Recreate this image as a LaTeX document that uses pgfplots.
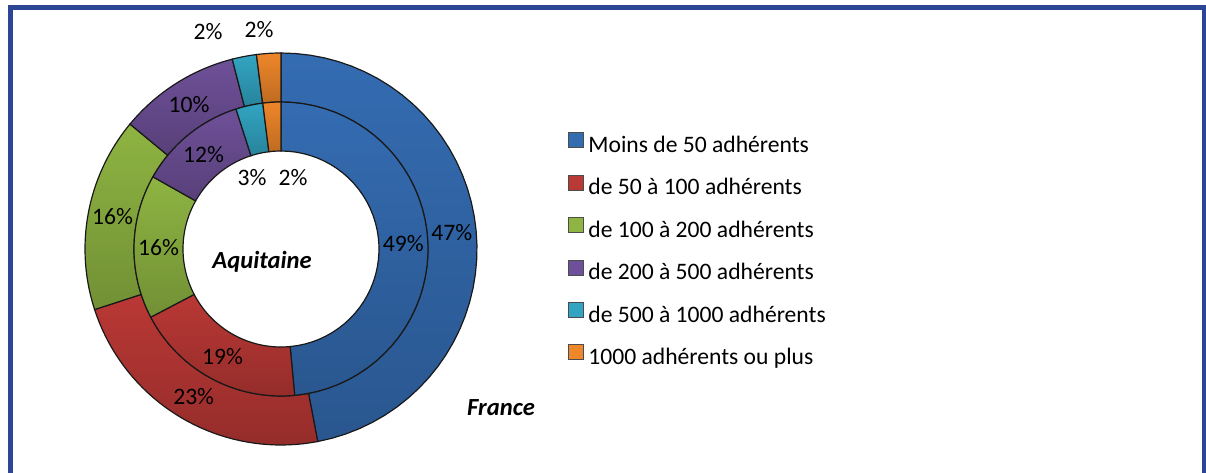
\documentclass[border=0pt]{standalone}
\usepackage{pgfplots}
\pgfplotsset{compat=1.18}
\usepackage{pgfplotstable}
\usepackage{fontspec}
\setmainfont{Carlito}

\definecolor{cBlue}{RGB}{52,108,178}
\definecolor{cRed}{RGB}{186,56,53}
\definecolor{cGreen}{RGB}{142,180,66}
\definecolor{cPurple}{RGB}{110,80,152}
\definecolor{cTeal}{RGB}{50,164,194}
\definecolor{cOrange}{RGB}{238,134,42}
\definecolor{frame}{RGB}{44,70,150}

\newcommand\pct{\fontsize{11.8}{13}\selectfont}
\newcommand\lgf{\fontsize{11.8}{13}\selectfont}

% val: share in %, col: colour, lr: label radius (px), ls: label angle shift (deg)
\pgfplotstableread{
val col     lr    ls
47  cBlue   171.5 0
23  cRed    171.5 0
16  cGreen  171.5 0
10  cPurple 171.5 0
2   cTeal   229   7.8
2   cOrange 221   2.1
}\france
\pgfplotstableread{
val col     lr    ls
49  cBlue   122.5 0
19  cRed    122.5 0
16  cGreen  122.5 0
12  cPurple 122.5 0
3   cTeal   76.7  9.7
2   cOrange 72    -13.2
}\aquitaine

\def\cx{281}\def\cy{223}

% #1 table, #2 inner radius, #3 outer radius (all in px)
\newcommand\ring[3]{%
  \def\tot{0}%
  \pgfplotsforeachungrouped \i in {0,...,5}{%
    \pgfplotstablegetelem{\i}{val}\of{#1}%
    \pgfmathsetmacro\tot{\tot+\pgfplotsretval}}%
  \def\cum{0}%
  \pgfplotsforeachungrouped \i in {0,...,5}{%
    \pgfplotstablegetelem{\i}{val}\of{#1}\let\sv\pgfplotsretval
    \pgfplotstablegetelem{\i}{col}\of{#1}\let\sc\pgfplotsretval
    \pgfplotstablegetelem{\i}{lr}\of{#1}\let\slr\pgfplotsretval
    \pgfplotstablegetelem{\i}{ls}\of{#1}\let\sls\pgfplotsretval
    \pgfmathsetmacro\sa{90-360/\tot*\cum}%
    \pgfmathsetmacro\cum{\cum+\sv}%
    \pgfmathsetmacro\sb{90-360/\tot*\cum}%
    \pgfmathsetmacro\lx{\cx+\slr*cos(((\sa)+(\sb))/2+(\sls))}%
    \pgfmathsetmacro\ly{\cy+\slr*sin(((\sa)+(\sb))/2+(\sls))}%
    \edef\cmd{%
      \noexpand\addplot[top color=\sc, bottom color=\sc!80!black,
        draw=black!90, line width=0.6pt, forget plot,
        samples at={0,...,81}, variable=\noexpand\t]
      ({\cx+ifthenelse(\noexpand\t<41, #3*cos((\sa)+((\sb)-(\sa))*\noexpand\t/40), #2*cos((\sb)+((\sa)-(\sb))*(\noexpand\t-41)/40))},
       {\cy+ifthenelse(\noexpand\t<41, #3*sin((\sa)+((\sb)-(\sa))*\noexpand\t/40), #2*sin((\sb)+((\sa)-(\sb))*(\noexpand\t-41)/40))})
      -- cycle;
      \noexpand\node[font=\noexpand\pct] at (axis cs:\lx,\ly) {\sv\noexpand\%};}%
    \cmd
  }%
}

\begin{document}
\begin{tikzpicture}
\begin{axis}[
  width=603pt, height=236pt, scale only axis,
  xmin=0, xmax=1206, ymin=0, ymax=472,
  hide axis, clip=false,
  legend cell align=left,
  legend image code/.code={\draw[#1, draw=black!70, line width=0.5pt] (0pt,-0.5pt) rectangle (7.5pt,7pt);},
  legend style={at={(axis cs:568,340)}, anchor=north west, draw=none, fill=none,
    inner sep=0pt, row sep=8.7pt, font=\lgf,
    nodes={inner sep=0pt, text height=8pt, text depth=2.5pt},
    /tikz/every odd column/.append style={column sep=2pt},
    /tikz/every even column/.append style={column sep=0pt}},
]
\draw[frame, line width=2.5pt] (axis cs:10.5,-20) -- (axis cs:10.5,464.5)
  -- (axis cs:1204.5,464.5) -- (axis cs:1204.5,-20);

\ring{\france}{147}{196}
\ring{\aquitaine}{98}{147}

\addlegendimage{fill=cBlue}\addlegendentry{Moins de 50 adhérents}
\addlegendimage{fill=cRed}\addlegendentry{de 50 à 100 adhérents}
\addlegendimage{fill=cGreen}\addlegendentry{de 100 à 200 adhérents}
\addlegendimage{fill=cPurple}\addlegendentry{de 200 à 500 adhérents}
\addlegendimage{fill=cTeal}\addlegendentry{de 500 à 1000 adhérents}
\addlegendimage{fill=cOrange}\addlegendentry{1000 adhérents ou plus}

\node[font=\fontsize{12.3}{14}\selectfont\bfseries\itshape] at (axis cs:262,210) {Aquitaine};
\node[font=\fontsize{12.3}{14}\selectfont\bfseries\itshape] at (axis cs:501,64) {France};
\end{axis}
\pgfresetboundingbox
\path (current axis.south west) rectangle (current axis.north east);
\end{tikzpicture}
\end{document}
